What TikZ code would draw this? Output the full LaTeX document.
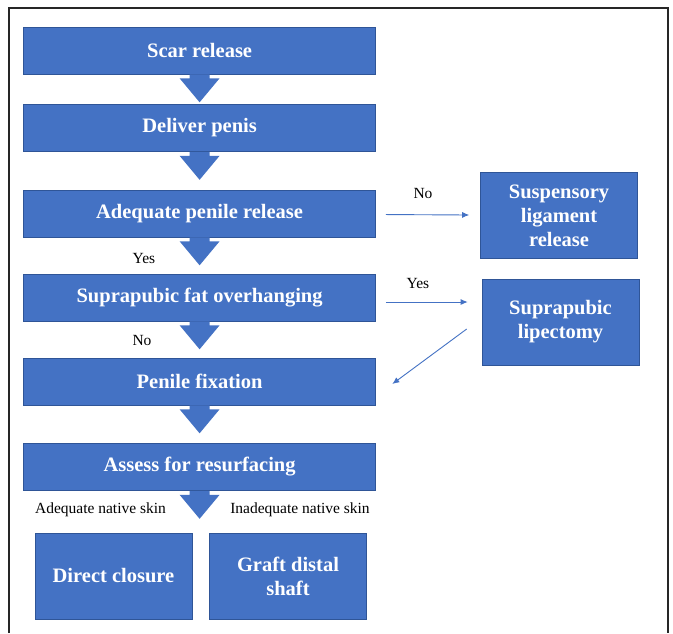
\documentclass[tikz,border=0pt]{standalone}
\usepackage{fontspec}
\setmainfont{Liberation Serif}
\usetikzlibrary{arrows.meta}
\definecolor{boxblue}{HTML}{4472C4}
\definecolor{boxedge}{HTML}{2F5597}
\begin{document}
\begin{tikzpicture}[x=1pt, y=-1pt,
        stepnode/.style={rectangle, draw=boxedge, line width=0.6pt, fill=boxblue, text=white,
            font=\bfseries\fontsize{20.5}{24}\selectfont, align=center,
            minimum width=352pt, minimum height=47pt, inner sep=0pt},
        sidenode/.style={stepnode, minimum width=157pt, minimum height=86pt},
        notenode/.style={font=\fontsize{15.5}{18}\selectfont, inner sep=0pt},
        thinarrow/.style={draw=boxblue, line width=0.9pt, -{Latex[length=7pt,width=6pt]}},
        downarrow/.style={fill=boxblue, to path={(\tikztostart) ++(-10,0) -- ++(0,4) -- ++(-10,0)
            -- ++(20,24) -- ++(20,-24) -- ++(-10,0) -- ++(0,-4) -- cycle}},
        ]

        \useasboundingbox (0,0) rectangle (673,633);
        \fill[white] (0,0) rectangle (673,633);
        \draw[black!85, line width=1.3pt] (9,633) -- (9,8) -- (668,8) -- (668,633);

        % Nodes
        \node[stepnode] (scar)     at (199.6,50.5)  {Scar release};
        \node[stepnode] (deliver)  at (199.6,128)   {Deliver penis};
        \node[stepnode] (release)  at (199.6,213.5) {Adequate penile release};
        \node[stepnode] (fat)      at (199.6,297.5) {Suprapubic fat overhanging};
        \node[stepnode] (fixation) at (199.6,381.5) {Penile fixation};
        \node[stepnode] (assess)   at (199.6,467)   {Assess for resurfacing};

        \node[sidenode] (ligament) at (559,215.5) {Suspensory\\ligament\\release};
        \node[sidenode] (lipo)     at (560.5,322) {Suprapubic\\lipectomy};
        \node[sidenode] (direct)   at (113.5,576) {Direct closure};
        \node[sidenode] (graft)    at (288,576)   {Graft distal\\shaft};
        \coordinate (split) at (199.6,533);

        \node[notenode] (yes1) at (144,258)   {Yes};
        \node[notenode] (no1)  at (142,340)   {No};
        \node[notenode] (no2)  at (423,193)   {No};
        \node[notenode] (yes2) at (418,283)   {Yes};
        \node[notenode] (good) at (100.5,510) {Adequate native skin};
        \node[notenode] (poor) at (300,510)   {Inadequate native skin};

        % Block arrows
        \path[downarrow] (scar.south) to (deliver.north);
        \path[downarrow] (deliver.south) to (release.north);
        \path[downarrow] (release.south) to (fat.north);
        \path[downarrow] (fat.south) to (fixation.north);
        \path[downarrow] (fixation.south) to (assess.north);
        \path[downarrow] (assess.south) to (split);

        % Side arrows
        \draw[thinarrow, shorten <=10pt, shorten >=11pt] (release) -- (ligament);
        \draw[thinarrow] ([shift={(10,4.5)}]fat.east) -- ([shift={(-14,-20)}]lipo.west);
        \draw[thinarrow] ([shift={(-15,7)}]lipo.west) -- ([shift={(16.4,2.5)}]fixation.east);

    \end{tikzpicture}
\end{document}
